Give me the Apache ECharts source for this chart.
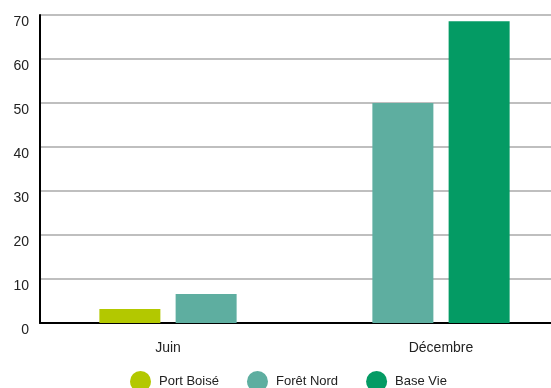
<!DOCTYPE html>
<html>
<head>
<meta charset="utf-8">
<script src="https://cdn.jsdelivr.net/npm/echarts@6/dist/echarts.min.js"></script>
<style>
html,body{margin:0;padding:0;background:#fff;}
#chart{width:551px;height:388px;}
</style>
</head>
<body>
<div id="chart"></div>
<script>
const categories = ['Juin', 'Décembre'];
const seriesNames = ['Port Boisé', 'Forêt Nord', 'Base Vie'];
const portBoise = [3.2, null];
const foretNord = [6.6, 50];
const baseVie = [null, 68.6];
const yTicks = [0, 10, 20, 30, 40, 50, 60, 70];

const colors = ['#B3C800', '#5EAEA0', '#049B64'];
const values = [portBoise, foretNord, baseVie];

// Place each category's present bars side by side, centred on the category
const series = [];
const slotSeries = {};
categories.forEach((c, ci) => {
  let slot = 0;
  values.forEach((vals, si) => {
    if (vals[ci] === null || vals[ci] === undefined) return;
    const key = si + '_' + slot;
    if (!slotSeries[key]) {
      slotSeries[key] = {
        name: seriesNames[si],
        type: 'bar',
        xAxisIndex: 1,
        yAxisIndex: 1,
        stack: 'slot' + slot,
        barWidth: 61,
        barGap: '25%',
        itemStyle: { color: colors[si] },
        data: categories.map(() => null),
        order: slot * 10 + si
      };
    }
    slotSeries[key].data[ci] = vals[ci];
    slot++;
  });
});
Object.values(slotSeries).sort((a, b) => a.order - b.order).forEach(s => { delete s.order; series.push(s); });

const chart = echarts.init(document.getElementById('chart'), null, { renderer: 'canvas' });
chart.setOption({
  animation: false,
  color: colors,
  textStyle: { fontFamily: 'Liberation Sans, Arial, sans-serif' },
  grid: [
    { left: 40, right: 0, top: 15, bottom: 65, outerBoundsMode: 'none', containLabel: false },
    { left: 31.5, width: 546, top: 15, bottom: 65, outerBoundsMode: 'none', containLabel: false }
  ],
  legend: {
    data: seriesNames,
    left: 125,
    top: 366,
    icon: 'circle',
    itemWidth: 21,
    itemHeight: 21,
    itemGap: 28,
    textStyle: { fontSize: 13, color: '#222', padding: [0, 0, 0, 3] }
  },
  xAxis: [
    {
      type: 'category', gridIndex: 0, data: categories,
      axisLine: { show: true, lineStyle: { color: '#000', width: 2 } },
      axisTick: { show: false }, axisLabel: { show: false }, splitLine: { show: false }
    },
    {
      type: 'category', gridIndex: 1, data: categories,
      axisLine: { show: false }, axisTick: { show: false },
      axisLabel: { fontSize: 14, color: '#222', margin: 18 }
    }
  ],
  yAxis: [
    {
      type: 'value', gridIndex: 0, min: yTicks[0], max: yTicks[yTicks.length - 1], interval: 10,
      axisLine: { show: true, lineStyle: { color: '#000', width: 2 } },
      axisTick: { show: false },
      axisLabel: { fontSize: 14, color: '#222', margin: 11, verticalAlign: 'top' },
      splitLine: { show: true, lineStyle: { color: '#aaa', width: 1.5 } }
    },
    {
      type: 'value', gridIndex: 1, min: yTicks[0], max: yTicks[yTicks.length - 1], interval: 10,
      show: false, splitLine: { show: false }
    }
  ],
  series: series
});
</script>
</body>
</html>
